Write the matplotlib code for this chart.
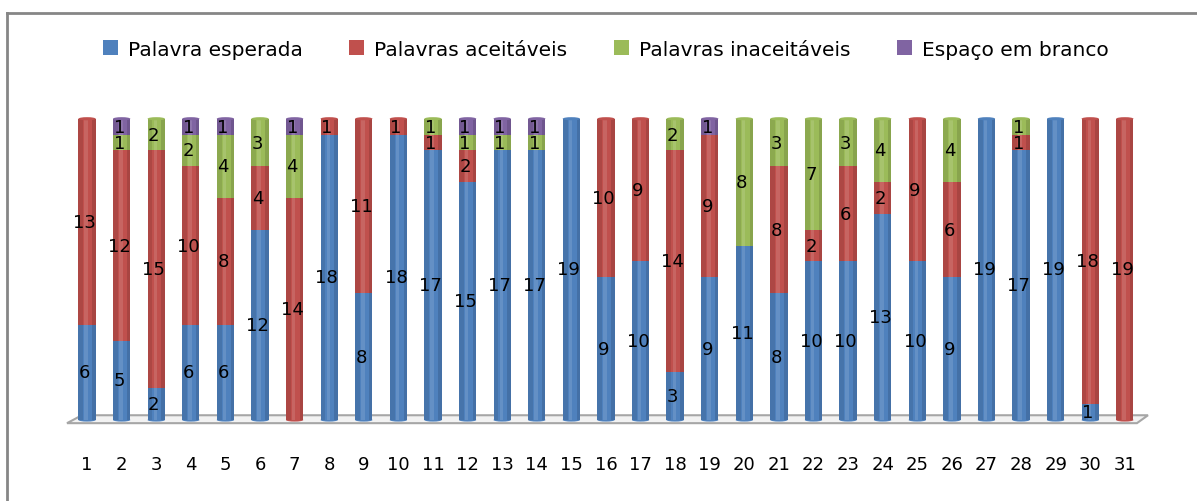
import matplotlib.pyplot as plt
from matplotlib.patches import Ellipse, Polygon
from matplotlib.lines import Line2D
import numpy as np

# question numbers 1..31, 19 answers each
questions = [str(i) for i in range(1, 32)]
series_names = ["Palavra esperada", "Palavras aceitáveis",
                "Palavras inaceitáveis", "Espaço em branco"]
esperada = [6, 5, 2, 6, 6, 12, 0, 18, 8, 18, 17, 15, 17, 17, 19, 9,
            10, 3, 9, 11, 8, 10, 10, 13, 10, 9, 19, 17, 19, 1, 0]
aceitaveis = [13, 12, 15, 10, 8, 4, 14, 1, 11, 1, 1, 2, 0, 0, 0, 10,
              9, 14, 9, 0, 8, 2, 6, 2, 9, 6, 0, 1, 0, 18, 19]
inaceitaveis = [0, 1, 2, 2, 4, 3, 4, 0, 0, 0, 1, 1, 1, 1, 0, 0,
                0, 2, 0, 8, 3, 7, 3, 4, 0, 4, 0, 1, 0, 0, 0]
branco = [0, 1, 0, 1, 1, 0, 1, 0, 0, 0, 0, 1, 1, 1, 0, 0,
          0, 0, 1, 0, 0, 0, 0, 0, 0, 0, 0, 0, 0, 0, 0]

colors = ["#4F81BD", "#C0504D", "#9BBB59", "#8064A2"]
dark = ["#385D8A", "#8C3836", "#71893F", "#5C4776"]

fig = plt.figure(figsize=(11.97, 5.02), dpi=100)
ax = fig.add_axes([(68 - 1) / 1197, 81 / 502, (1148 - 67) / 1197, 306 / 502])

x = np.arange(1, 32)
w = 0.5
series = [esperada, aceitaveis, inaceitaveis, branco]
bottom = np.zeros(31)
top_color = [None] * 31
base_color = [None] * 31
for vals, c, dc, name in zip(series, colors, dark, series_names):
    vals = np.array(vals)
    ax.bar(x, vals, w, bottom=bottom, color=c, edgecolor="none", label=name, zorder=3)
    # cylinder shading
    ax.bar(x - w * 0.36, vals, w * 0.28, bottom=bottom, color=dc, alpha=0.35,
           edgecolor="none", zorder=4)
    ax.bar(x + w * 0.4, vals, w * 0.2, bottom=bottom, color=dc, alpha=0.45,
           edgecolor="none", zorder=4)
    ax.bar(x - w * 0.05, vals, w * 0.2, bottom=bottom, color="white", alpha=0.12,
           edgecolor="none", zorder=4)
    for i in range(31):
        if vals[i] > 0:
            ax.text(x[i] - 0.07, bottom[i] + vals[i] / 2, str(vals[i]),
                    ha="center", va="center", fontsize=13, color="black", zorder=6)
            top_color[i] = c
            if base_color[i] is None:
                base_color[i] = c
    bottom = bottom + vals

# top and bottom caps of cylinders
for i in range(31):
    ax.add_patch(Ellipse((x[i], bottom[i]), w, 0.2, facecolor=top_color[i],
                         edgecolor="none", zorder=5))
    ax.add_patch(Ellipse((x[i], 0), w, 0.2, facecolor=base_color[i],
                         edgecolor="none", zorder=2, clip_on=False))

# floor
floor = Polygon([(0.42, -0.2), (31.35, -0.2), (31.67, 0.3), (0.85, 0.3)],
                closed=True, facecolor="#F2F2F2", edgecolor="#A6A6A6", lw=1.5,
                zorder=1, clip_on=False)
ax.add_patch(floor)

ax.set_xlim(0.42, 31.67)
ax.set_ylim(0, 19.3)
ax.set_xticks(x)
ax.set_xticklabels(questions, fontsize=13)
ax.tick_params(axis="x", length=0, pad=25)
ax.set_yticks([])
for s in ax.spines.values():
    s.set_visible(False)

handles, labels = ax.get_legend_handles_labels()
fig.legend(handles, labels, loc="center", bbox_to_anchor=(0.506, 0.9), ncol=4,
           frameon=False, fontsize=14.5, handlelength=0.75, handleheight=0.75,
           columnspacing=2.3, handletextpad=0.5)

# chart frame (top and left visible)
fig.add_artist(Line2D([7 / 1197, 7 / 1197], [0, 1 - 14 / 502], color="#868686", lw=2))
fig.add_artist(Line2D([7 / 1197, 1], [1 - 14 / 502, 1 - 14 / 502], color="#868686", lw=2))

fig.savefig("out.png", dpi=100)
